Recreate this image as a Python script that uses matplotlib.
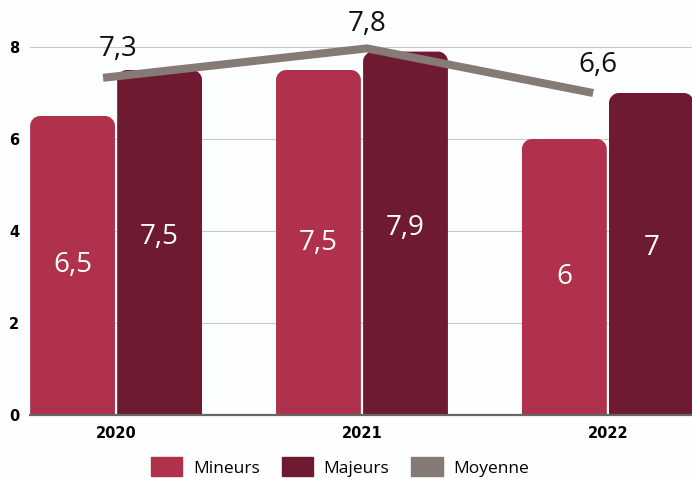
import matplotlib
matplotlib.use("Agg")
import matplotlib.pyplot as plt
import numpy as np
from matplotlib.path import Path
from matplotlib.patches import PathPatch, Patch

years = ["2020", "2021", "2022"]
mineurs = [6.5, 7.5, 6.0]
majeurs = [7.5, 7.9, 7.0]
mineurs_labels = ["6,5", "7,5", "6"]
majeurs_labels = ["7,5", "7,9", "7"]
moyenne_line = [7.33, 7.97, 7.0]
moyenne_labels = ["7,3", "7,8", "6,6"]
yticks = [0, 2, 4, 6, 8]

c_min = "#B0314B"
c_maj = "#6E1A30"
c_moy = "#857A75"

plt.rcParams['font.family'] = ['Open Sans', 'DejaVu Sans']

W, H = 692, 478
fig = plt.figure(figsize=(W / 100, H / 100), dpi=100)
fig.patch.set_facecolor("#FDFEFE")
ax = fig.add_axes([30 / W, (H - 415) / H, (W - 30) / W, 410 / H])
ax.set_facecolor("#FDFEFE")

ppx = 246.0   # pixels per x unit
ppy = 46.0    # pixels per y unit
ax.set_xlim(-0.35, 2.342)
ax.set_ylim(0, 410 / ppy)

x = np.arange(len(years))
bw = 0.345
off = 0.177


def rounded_bar(ax, xc, h, w, color, r_px=10):
    rx = r_px / ppx
    ry = min(r_px / ppy, h)
    x0, x1 = xc - w / 2, xc + w / 2
    k = 0.5523
    verts = [
        (x0, 0), (x0, h - ry),
        (x0, h - ry + k * ry), (x0 + rx - k * rx, h), (x0 + rx, h),
        (x1 - rx, h),
        (x1 - rx + k * rx, h), (x1, h - ry + k * ry), (x1, h - ry),
        (x1, 0), (x0, 0)]
    codes = [Path.MOVETO, Path.LINETO,
             Path.CURVE4, Path.CURVE4, Path.CURVE4,
             Path.LINETO,
             Path.CURVE4, Path.CURVE4, Path.CURVE4,
             Path.LINETO, Path.CLOSEPOLY]
    ax.add_patch(PathPatch(Path(verts, codes), facecolor=color,
                           edgecolor="none", zorder=3))


for i in range(len(years)):
    rounded_bar(ax, x[i] - off, mineurs[i], bw, c_min)
    rounded_bar(ax, x[i] + off, majeurs[i], bw, c_maj)
    ax.text(x[i] - off, mineurs[i] / 2, mineurs_labels[i], color="white",
            ha="center", va="center", fontsize=20, zorder=5)
    ax.text(x[i] + off, majeurs[i] / 2 + 0.12, majeurs_labels[i], color="white",
            ha="center", va="center", fontsize=20, zorder=5)

line_x = [-0.053, 1.02, 1.94]
ax.plot(line_x, moyenne_line, color=c_moy, lw=5.8, zorder=4,
        solid_capstyle="butt", solid_joinstyle="miter")
label_pos = [(0.01, 7.95), (1.02, 8.5), (1.96, 7.6)]
for (lx, ly), t in zip(label_pos, moyenne_labels):
    ax.text(lx, ly, t, ha="center", va="center", fontsize=20,
            color="#111111", zorder=5, clip_on=False)

ax.set_yticks(yticks)
ax.set_yticklabels([str(v) for v in yticks], fontweight="bold", fontsize=10.5,
                   family="DejaVu Sans")
ax.set_xticks(x)
ax.set_xticklabels(years, fontweight="bold", fontsize=10.5, family="DejaVu Sans")
ax.tick_params(length=0)
ax.tick_params(axis="x", pad=8)
for lab in ax.get_yticklabels():
    lab.set_horizontalalignment("center")
ax.tick_params(axis="y", pad=11.5)

for v in yticks[1:]:
    ax.axhline(v, color="#C8C8C8", lw=0.8, zorder=1)
for s in ["top", "right", "left"]:
    ax.spines[s].set_visible(False)
ax.spines["bottom"].set_color("#666666")
ax.spines["bottom"].set_linewidth(1.6)
ax.spines["bottom"].set_zorder(6)

handles = [Patch(color=c_min, label="Mineurs"),
           Patch(color=c_maj, label="Majeurs"),
           Patch(color=c_moy, label="Moyenne")]
fig.legend(handles=handles, loc="center", ncol=3,
           bbox_to_anchor=(340 / W, 1 - 467 / H), frameon=False,
           fontsize=12.5, handlelength=1.8, handleheight=1.3,
           handletextpad=0.63, columnspacing=1.26)

fig.savefig("out.png", dpi=100, facecolor=fig.get_facecolor())
